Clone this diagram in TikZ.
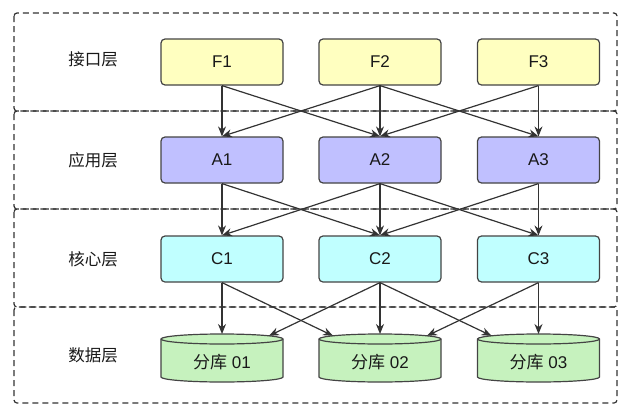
\documentclass[tikz,border=0pt]{standalone}
\usepackage{fontspec}
\setmainfont{Liberation Sans}
\newfontfamily\cjk{Noto Sans CJK SC}
\usetikzlibrary{arrows.meta}
\definecolor{lineC}{HTML}{333333}
\definecolor{boxline}{HTML}{444444}
\definecolor{fyel}{HTML}{FFFFC0}
\definecolor{fblue}{HTML}{C0C0FF}
\definecolor{fcyan}{HTML}{C0FFFF}
\definecolor{fgreen}{HTML}{C6F2BE}
\begin{document}
\begin{tikzpicture}[x=1pt,y=-1pt,
  layerbox/.style={draw=lineC,line width=1.2pt,dash pattern=on 6pt off 4pt,rounded corners=3pt},
  laylabel/.style={font=\cjk\fontsize{16.5}{18}\selectfont,text=black!90},
  cell/.style={draw=boxline,line width=1.2pt,rounded corners=4pt,minimum width=122pt,minimum height=46pt,font=\fontsize{17}{19}\selectfont,text=black!90},
  dbcell/.style={minimum width=122pt,minimum height=47pt,inner sep=0pt,font=\fontsize{17}{19}\selectfont,text=black!90},
  conn/.style={draw=lineC,line width=1.2pt,-{Stealth[length=10pt,width=8pt]}}]
\useasboundingbox (0,0) rectangle (630,418);
% layers
\draw[layerbox] (14,13) rectangle (617,111);
\draw[layerbox] (14,111) rectangle (617,209);
\draw[layerbox] (14,209) rectangle (617,307);
\draw[layerbox] (14,307) rectangle (617,403);
\node[laylabel] (L1) at (93,59) {接口层};
\node[laylabel] (L2) at (93,160) {应用层};
\node[laylabel] (L3) at (93,259) {核心层};
\node[laylabel] (L4) at (93,355) {数据层};
% F
\node[cell,fill=fyel] (F1) at (222,62) {F1};
\node[cell,fill=fyel] (F2) at (380,62) {F2};
\node[cell,fill=fyel] (F3) at (538.5,62) {F3};
% A
\node[cell,fill=fblue] (A1) at (222,160) {A1};
\node[cell,fill=fblue] (A2) at (380,160) {A2};
\node[cell,fill=fblue] (A3) at (538.5,160) {A3};
% C
\node[cell,fill=fcyan] (C1) at (222,259) {C1};
\node[cell,fill=fcyan] (C2) at (380,259) {C2};
\node[cell,fill=fcyan] (C3) at (538.5,259) {C3};
% cylinders
\foreach \cx/\nm in {222/D1,380/D2,538.5/D3}{
  \path[fill=fgreen,draw=boxline,line width=1.2pt] (\cx-61,339) -- (\cx-61,377)
     arc[start angle=180,end angle=360,x radius=61pt,y radius=5pt] -- (\cx+61,339)
     arc[start angle=0,end angle=180,x radius=61pt,y radius=5pt] -- cycle;
  \draw[boxline,line width=1.2pt] (\cx-61,339) arc[start angle=180,end angle=360,x radius=61pt,y radius=5pt];
}
\node[dbcell] (DB1) at (222,362) {\cjk 分库\rm\ 01};
\node[dbcell] (DB2) at (380,362) {\cjk 分库\rm\ 02};
\node[dbcell] (DB3) at (538.5,362) {\cjk 分库\rm\ 03};
\coordinate (DB1t) at (222,334);
\coordinate (DB1r) at (269,335.8);
\coordinate (DB2t) at (380,334);
\coordinate (DB2l) at (333,335.8);
\coordinate (DB2r) at (427,335.8);
\coordinate (DB3t) at (538.5,334);
\coordinate (DB3l) at (491.5,335.8);
% F -> A
\draw[conn] (F1.south) -- (A1.north);
\draw[conn] (F1.south) -- (A2.north);
\draw[conn] (F2.south) -- (A1.north);
\draw[conn] (F2.south) -- (A2.north);
\draw[conn] (F2.south) -- (A3.north);
\draw[conn] (F3.south) -- (A2.north);
\draw[conn] (F3.south) -- (A3.north);
% A -> C
\draw[conn] (A1.south) -- (C1.north);
\draw[conn] (A1.south) -- (C2.north);
\draw[conn] (A2.south) -- (C1.north);
\draw[conn] (A2.south) -- (C2.north);
\draw[conn] (A2.south) -- (C3.north);
\draw[conn] (A3.south) -- (C2.north);
\draw[conn] (A3.south) -- (C3.north);
% C -> DB
\draw[conn] (C1.south) -- (DB1t);
\draw[conn] (C1.south) -- (DB2l);
\draw[conn] (C2.south) -- (DB1r);
\draw[conn] (C2.south) -- (DB2t);
\draw[conn] (C2.south) -- (DB3l);
\draw[conn] (C3.south) -- (DB2r);
\draw[conn] (C3.south) -- (DB3t);
\end{tikzpicture}
\end{document}
